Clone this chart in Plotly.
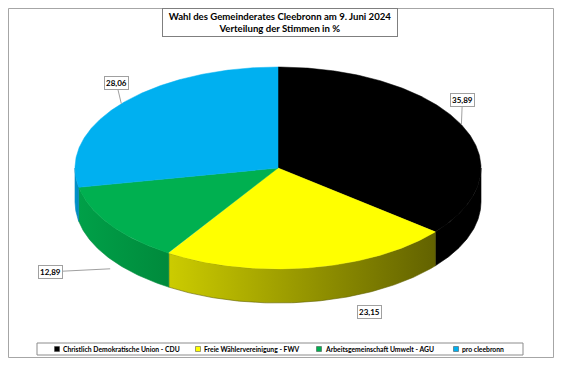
import numpy as np
import plotly.graph_objects as go

# ---------------- data ----------------
categories = ["Christlich Demokratische Union - CDU",
              "Freie Wählervereinigung - FWV",
              "Arbeitsgemeinschaft Umwelt - AGU",
              "pro cleebronn"]
values = [35.89, 23.15, 12.89, 28.06]
title_lines = ["Wahl des Gemeinderates Cleebronn am 9. Juni 2024",
               "Verteilung der Stimmen in %"]

# ---------------- style / layout ----------------
W, H = 562, 366
OFF = 8  # default page margin of the html body
CX, CY, RX, RY, DEPTH = 278, 168, 203, 101, 34
top_colors = ["#000000", "#ffff00", "#00b050", "#00b0f0"]
side_colors = [("#000000", "#000000"), ("#cccc00", "#626200"),
               ("#00a048", "#008a3c"), ("#0096d0", "#0086bc")]
FONT = "Lato"
# label placement: (extra anchor depth, ax, ay, leader)
label_style = [(0, 1, -25, True), (DEPTH, 59, 10, False),
               (DEPTH + 10, -60, 3, True), (0, -5, -21, True)]
legend_x = [57, 198, 319, 456]


def pt(theta_deg, dy=0.0):
    t = np.radians(theta_deg)
    return CX + RX * np.sin(t), CY - RY * np.cos(t) + dy


total = sum(values)
bounds = np.concatenate([[0], np.cumsum(values) / total * 360.0])

fig = go.Figure()

# side walls (front half only: 90..270 deg clockwise from top)
for i in range(len(values)):
    a0, a1 = max(bounds[i], 90), min(bounds[i + 1], 270)
    if a1 <= a0:
        continue
    th = np.linspace(a0, a1, 120)
    xt, yt = pt(th)
    xb, yb = pt(th[::-1], DEPTH)
    xs = np.concatenate([xt, xb, xt[:1]])
    ys = np.concatenate([yt, yb, yt[:1]])
    c1, c2 = side_colors[i]
    fig.add_trace(go.Scatter(
        x=xs, y=ys, mode="lines", fill="toself",
        line=dict(width=0.6, color=c2),
        fillgradient=dict(type="horizontal", start=float(xs.min()),
                          stop=float(xs.max()),
                          colorscale=[[0, c1], [1, c2]]),
        hoverinfo="skip", showlegend=False))

# top faces
for i in range(len(values)):
    th = np.linspace(bounds[i], bounds[i + 1], 200)
    x, y = pt(th)
    xs = np.concatenate([[CX], x, [CX]])
    ys = np.concatenate([[CY], y, [CY]])
    fig.add_trace(go.Scatter(
        x=xs, y=ys, mode="lines", fill="toself", fillcolor=top_colors[i],
        line=dict(width=0.5, color=top_colors[i]),
        hoverinfo="skip", showlegend=False))

annotations = []
# value labels
for i, v in enumerate(values):
    mid = (bounds[i] + bounds[i + 1]) / 2
    dy, ax, ay, leader = label_style[i]
    x, y = pt(mid, dy)
    txt = "<b>" + f"{v:.2f}".replace(".", ",") + "</b>"
    common = dict(text=txt, xref="x", yref="y",
                  font=dict(family=FONT, size=8, color="#000000"),
                  bgcolor="#ffffff", bordercolor="#a0a0a0", borderwidth=1,
                  borderpad=1)
    if leader:
        annotations.append(dict(x=x, y=y, showarrow=True, ax=ax, ay=ay,
                                arrowhead=0, arrowwidth=1,
                                arrowcolor="#a0a0a0", standoff=0, **common))
    else:
        annotations.append(dict(x=x, y=y, showarrow=False, xshift=ax,
                                yshift=-ay, **common))

# title box
annotations.append(dict(
    x=280, y=22, xref="x", yref="y", showarrow=False,
    text="<b>" + "<br>".join(title_lines) + "</b>",
    font=dict(family=FONT, size=9.6, color="#000000"),
    bgcolor="#ffffff", bordercolor="#7f7f7f", borderwidth=1, borderpad=2,
    width=230, align="center"))

shapes = [
    dict(type="rect", x0=8.5, y0=8.5, x1=553.5, y1=357.5, xref="x",
         yref="y", fillcolor="#ffffff", line=dict(color="#a6a6a6", width=1),
         layer="below"),
    dict(type="rect", x0=37, y0=343, x1=523, y1=355, xref="x", yref="y",
         fillcolor="#ffffff", line=dict(color="#8c8c8c", width=1)),
]
# legend
for i, name in enumerate(categories):
    lx = legend_x[i]
    shapes.append(dict(type="rect", x0=lx - 2.5, x1=lx + 2.5, y0=346.5,
                       y1=351.5, xref="x", yref="y",
                       fillcolor=top_colors[i],
                       line=dict(color="#404040", width=0.5)))
    annotations.append(dict(x=lx + 4, y=349, xref="x", yref="y",
                            xanchor="left", yanchor="middle",
                            showarrow=False, text="<b>" + name + "</b>",
                            font=dict(family=FONT, size=6.8,
                                      color="#000000")))

fig.update_layout(
    width=W - 2 * OFF, height=H - 2 * OFF,
    margin=dict(l=0, r=0, t=0, b=0),
    paper_bgcolor="#f2f2f2", plot_bgcolor="#f2f2f2",
    xaxis=dict(range=[OFF, W - OFF], visible=False, fixedrange=True),
    yaxis=dict(range=[H - OFF, OFF], visible=False, fixedrange=True),
    shapes=shapes, annotations=annotations, showlegend=False)

fig.write_html("out.html")
